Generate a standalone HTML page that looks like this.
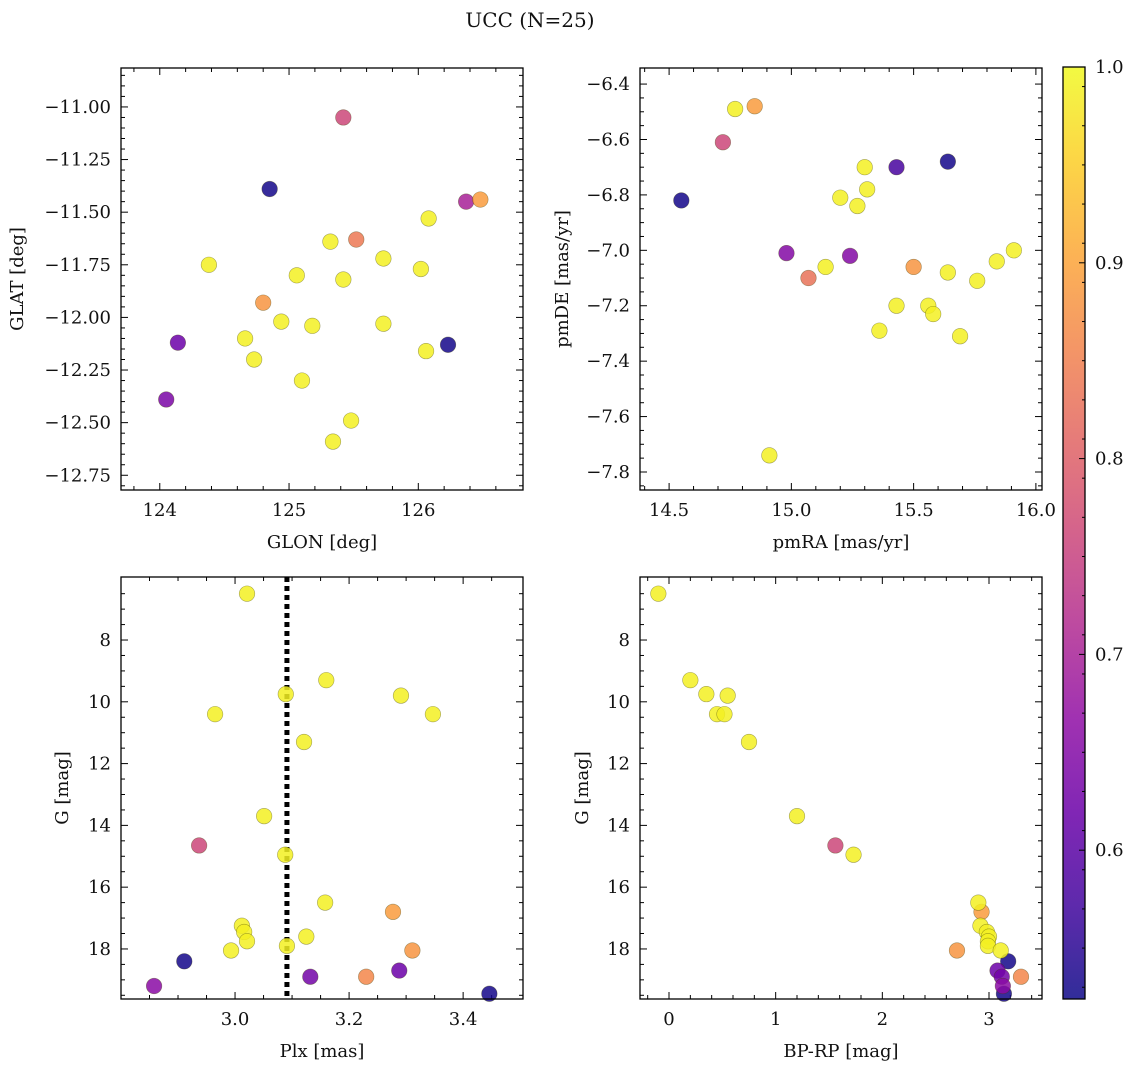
<!DOCTYPE html>
<html><head><meta charset="utf-8">
<style>
body{margin:0;background:#fff;}
svg text{font-family:"DejaVu Serif","Liberation Serif",serif;fill:#111;}
</style></head>
<body>
<svg id="fig" width="1136" height="1067" xmlns="http://www.w3.org/2000/svg">
<text x="530" y="27" font-size="20" text-anchor="middle">UCC (N=25)</text>
</svg>
<script>
// Panel 1: GLON / GLAT
const glon = [125.42,124.85,126.48,126.37,126.08,125.52,125.32,124.38,125.73,126.02,125.06,125.42,124.80,124.94,125.18,125.73,124.14,124.66,126.23,126.06,124.73,125.10,124.05,125.48,125.34];
const glat = [-11.05,-11.39,-11.44,-11.45,-11.53,-11.63,-11.64,-11.75,-11.72,-11.77,-11.80,-11.82,-11.93,-12.02,-12.04,-12.03,-12.12,-12.10,-12.13,-12.16,-12.20,-12.30,-12.39,-12.49,-12.59];
const prob1 = [0.76,0.53,0.89,0.70,0.99,0.84,0.99,0.99,0.99,0.99,0.99,0.99,0.88,0.99,0.99,0.99,0.62,0.99,0.53,0.99,0.99,0.99,0.64,0.99,0.99];
// Panel 2: proper motions
const pmra = [14.55,14.72,14.77,14.85,15.30,15.43,15.64,15.31,15.20,15.27,14.98,15.24,15.07,15.14,15.50,15.64,15.84,15.91,15.76,15.43,15.56,15.58,15.36,15.69,14.91];
const pmde = [-6.82,-6.61,-6.49,-6.48,-6.70,-6.70,-6.68,-6.78,-6.81,-6.84,-7.01,-7.02,-7.10,-7.06,-7.06,-7.08,-7.04,-7.00,-7.11,-7.20,-7.20,-7.23,-7.29,-7.31,-7.74];
const prob2 = [0.53,0.76,0.99,0.89,0.99,0.58,0.53,0.99,0.99,0.99,0.65,0.65,0.83,0.99,0.88,0.99,0.99,0.99,0.99,0.99,0.99,0.99,0.99,0.99,0.99];
// Panel 3: Plx vs G
const plx = [3.021,3.160,3.089,3.291,2.965,3.347,3.121,3.051,2.937,3.088,3.158,3.277,3.012,3.016,3.021,3.125,3.091,2.993,3.311,2.911,3.230,3.132,3.288,2.858,3.446];
const gmag3 = [6.5,9.3,9.75,9.8,10.4,10.4,11.3,13.7,14.65,14.95,16.5,16.8,17.25,17.45,17.75,17.6,17.9,18.05,18.05,18.4,18.9,18.9,18.7,19.2,19.45];
const prob3 = [0.99,0.99,0.99,0.99,0.99,0.99,0.99,0.99,0.76,0.99,0.99,0.89,0.99,0.99,0.99,0.99,0.99,0.99,0.88,0.53,0.86,0.63,0.62,0.66,0.53];
const plxMedian = 3.091;
// Panel 4: CMD
const bprp = [-0.1,0.2,0.35,0.55,0.45,0.52,0.75,1.2,1.56,1.73,2.9,2.93,2.92,2.98,3.0,2.99,2.99,2.7,3.11,3.18,3.08,3.12,3.3,3.13,3.14];
const gmag4 = [6.5,9.3,9.75,9.8,10.4,10.4,11.3,13.7,14.65,14.95,16.5,16.8,17.25,17.45,17.6,17.75,17.9,18.05,18.05,18.4,18.7,18.9,18.9,19.2,19.45];
const prob4 = [0.99,0.99,0.99,0.99,0.99,0.99,0.99,0.99,0.76,0.99,0.99,0.89,0.99,0.99,0.99,0.99,0.99,0.88,0.99,0.53,0.62,0.63,0.86,0.66,0.53];
// Colorbar
const cbTicks = [0.6,0.7,0.8,0.9,1.0];
const cbMin = 0.524, cbMax = 1.0;

const NS = "http://www.w3.org/2000/svg";
const svg = document.getElementById('fig');
function mk(tag, attrs, parent){const e=document.createElementNS(NS,tag);for(const k in attrs)e.setAttribute(k,attrs[k]);(parent||svg).appendChild(e);return e;}
const plasma = ["#0d0887","#41049d","#6a00a8","#8f0da4","#b12a90","#cc4778","#e16462","#f2844b","#fca636","#fcce25","#f0f921"];
function hex(h){return [parseInt(h.substr(1,2),16),parseInt(h.substr(3,2),16),parseInt(h.substr(5,2),16)];}
function cmap(t){t=Math.max(0,Math.min(1,t));const p=t*10,i=Math.min(9,Math.floor(p)),f=p-i;const a=hex(plasma[i]),b=hex(plasma[i+1]);return `rgb(${a.map((v,k)=>Math.round(v+(b[k]-v)*f)).join(',')})`;}
function col(v){return cmap((v-cbMin)/(cbMax-cbMin));}
function fmt(v,d){let s=v.toFixed(d);return s.replace('-','\u2212');}
const FS=18;

function panel(o){
  const g=mk('g',{});
  
  
  const sx=v=>o.L+(v-o.x0)/(o.x1-o.x0)*(o.R-o.L);
  const sy=v=>o.T+(v-o.y0)/(o.y1-o.y0)*(o.B-o.T);
  const tg=mk('g',{stroke:'#000'},g);
  for(let v=Math.ceil(o.x0/o.xmin-1e-9)*o.xmin; v<=o.x1+1e-9; v+=o.xmin){
    const x=sx(v), maj=Math.abs(v/o.xmaj-Math.round(v/o.xmaj))<1e-6, len=maj?7:4;
    if(x<o.L+3||x>o.R-3) continue;
    mk('line',{x1:x,x2:x,y1:o.B,y2:o.B-len,'stroke-width':1},tg);
    mk('line',{x1:x,x2:x,y1:o.T,y2:o.T+len,'stroke-width':1},tg);
    if(maj){const t=mk('text',{x:x,y:o.B+26,'font-size':FS,'text-anchor':'middle',stroke:'none'},g);t.textContent=fmt(v,o.xd);
      }
  }
  const ylo=Math.min(o.y0,o.y1), yhi=Math.max(o.y0,o.y1);
  for(let v=Math.ceil(ylo/o.ymin-1e-9)*o.ymin; v<=yhi+1e-9; v+=o.ymin){
    const y=sy(v), maj=Math.abs(v/o.ymaj-Math.round(v/o.ymaj))<1e-6, len=maj?7:4;
    if(y<o.T+3||y>o.B-3) continue;
    mk('line',{x1:o.L,x2:o.L+len,y1:y,y2:y,'stroke-width':1},tg);
    mk('line',{x1:o.R,x2:o.R-len,y1:y,y2:y,'stroke-width':1},tg);
    if(maj){const t=mk('text',{x:o.L-10,y:y+6,'font-size':FS,'text-anchor':'end',stroke:'none'},g);t.textContent=fmt(v,o.yd);
      }
  }
  if(o.vline!==undefined){const l=mk('line',{x1:sx(o.vline),x2:sx(o.vline),y1:o.T,y2:o.B,stroke:'#000','stroke-width':5,'stroke-dasharray':'5 4'},g);
    }
  const idx=o.xs.map((_,i)=>i).sort((a,b)=>o.p[a]-o.p[b]);
  idx.forEach(i=>{
    const c=mk('circle',{cx:sx(o.xs[i]),cy:sy(o.ys[i]),r:7.8,fill:col(o.p[i]),'fill-opacity':0.85,stroke:'rgba(60,60,0,0.45)','stroke-width':0.6},g);
    
    
  });
  const fr=mk('rect',{x:o.L,y:o.T,width:o.R-o.L,height:o.B-o.T,fill:'none',stroke:'#000','stroke-width':1.3},g);
  
  const xl=mk('text',{x:(o.L+o.R)/2,y:o.B+58,'font-size':FS,'text-anchor':'middle'},g);xl.textContent=o.xl;
  
  const yx=o.ylx, yy=(o.T+o.B)/2;
  const yl=mk('text',{x:yx,y:yy,'font-size':FS,'text-anchor':'middle',transform:`rotate(-90 ${yx} ${yy})`},g);yl.textContent=o.yl;
  
}
panel({name:'glon-glat-panel',L:121,R:523,T:68,B:490,x0:123.70,x1:126.81,y0:-10.815,y1:-12.82,xmaj:1,xmin:0.2,ymaj:0.25,ymin:0.05,xd:0,yd:2,xs:glon,ys:glat,p:prob1,xl:'GLON [deg]',yl:'GLAT [deg]',ylx:23});
panel({name:'proper-motion-panel',L:640,R:1042,T:68,B:490,x0:14.381,x1:16.025,y0:-6.342,y1:-7.865,xmaj:0.5,xmin:0.1,ymaj:0.2,ymin:0.05,xd:1,yd:1,xs:pmra,ys:pmde,p:prob2,xl:'pmRA [mas/yr]',yl:'pmDE [mas/yr]',ylx:568});
panel({name:'plx-g-panel',L:121,R:523,T:577,B:999,x0:2.80,x1:3.505,y0:5.96,y1:19.62,xmaj:0.2,xmin:0.05,ymaj:2,ymin:0.5,xd:1,yd:0,xs:plx,ys:gmag3,p:prob3,xl:'Plx [mas]',yl:'G [mag]',ylx:68,vline:plxMedian});
panel({name:'cmd-panel',L:640,R:1042,T:577,B:999,x0:-0.272,x1:3.497,y0:5.96,y1:19.62,xmaj:1,xmin:0.2,ymaj:2,ymin:0.5,xd:0,yd:0,xs:bprp,ys:gmag4,p:prob4,xl:'BP-RP [mag]',yl:'G [mag]',ylx:588});

const cb=mk('g',{});


const cL=1063,cR=1085,cT=67,cB=999;
const defs=mk('defs',{},cb);
const lg=mk('linearGradient',{id:'cbg',x1:0,y1:1,x2:0,y2:0},defs);
for(let k=0;k<=20;k++){mk('stop',{offset:k/20,'stop-color':cmap(k/20),'stop-opacity':0.85},lg);}
mk('rect',{x:cL,y:cT,width:cR-cL,height:cB-cT,fill:'url(#cbg)',stroke:'#000','stroke-width':1.3},cb);
const cy=v=>cB-(v-cbMin)/(cbMax-cbMin)*(cB-cT);
for(let v=0.53;v<=1.0001;v+=0.02){const y=cy(v);mk('line',{x1:cR,x2:cR-3,y1:y,y2:y,stroke:'#000'},cb);}
cbTicks.forEach(v=>{const y=cy(v);mk('line',{x1:cR,x2:cR-6,y1:y,y2:y,stroke:'#000'},cb);
  const t=mk('text',{x:1095,y:y+6,'font-size':FS},cb);t.textContent=v.toFixed(1);
  });
</script>
</body></html>
